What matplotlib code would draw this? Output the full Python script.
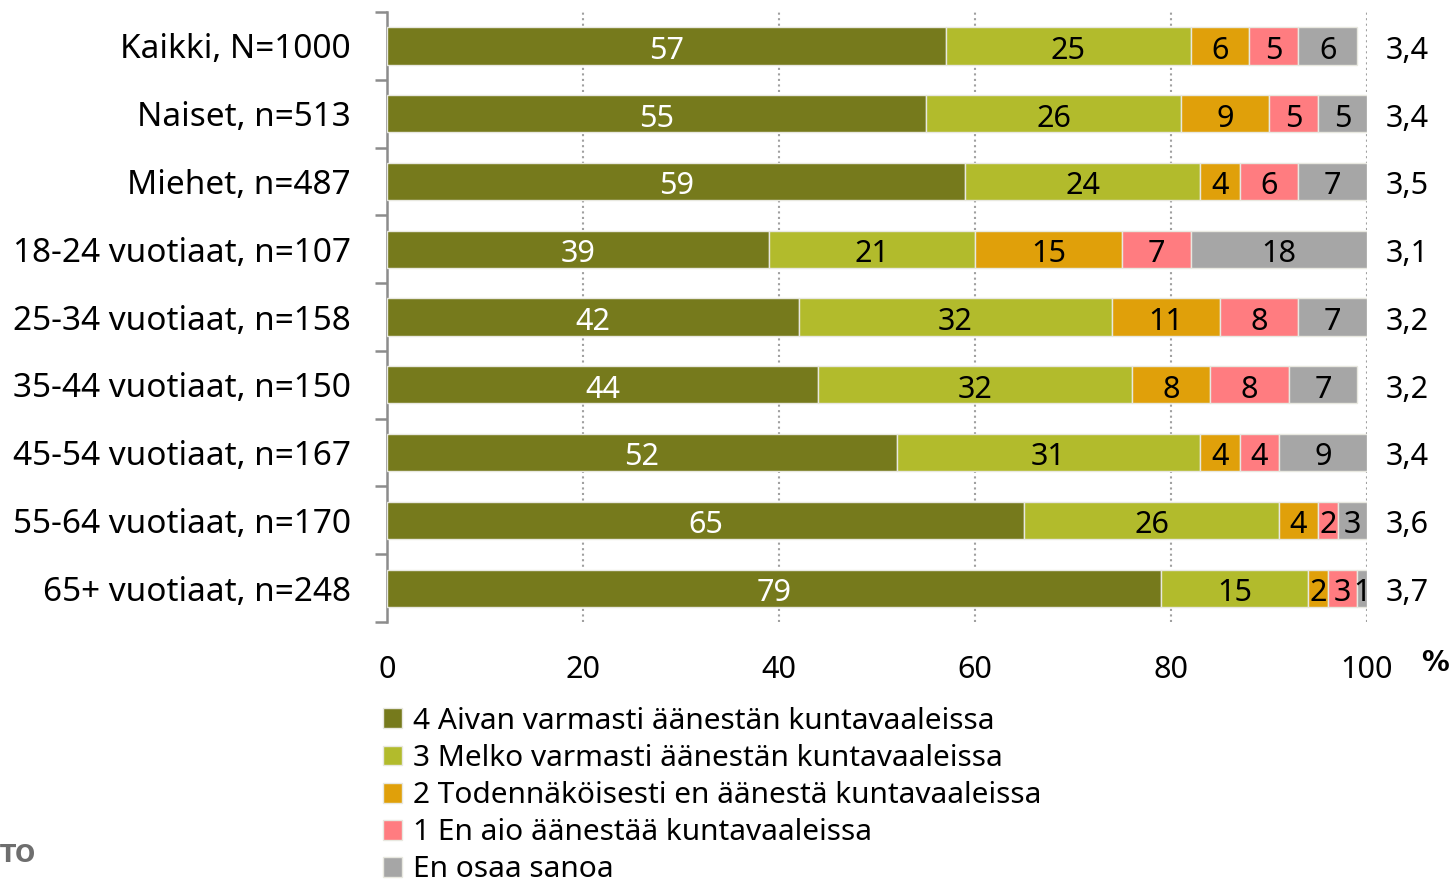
import matplotlib.pyplot as plt
import numpy as np

plt.rcParams['font.family'] = ['Noto Sans', 'DejaVu Sans']

# Data
groups = ['Kaikki, N=1000', 'Naiset, n=513', 'Miehet, n=487',
          '18-24 vuotiaat, n=107', '25-34 vuotiaat, n=158',
          '35-44 vuotiaat, n=150', '45-54 vuotiaat, n=167',
          '55-64 vuotiaat, n=170', '65+ vuotiaat, n=248']
aivan = [57, 55, 59, 39, 42, 44, 52, 65, 79]
melko = [25, 26, 24, 21, 32, 32, 31, 26, 15]
todennak = [6, 9, 4, 15, 11, 8, 4, 4, 2]
en_aio = [5, 5, 6, 7, 8, 8, 4, 2, 3]
eos = [6, 5, 7, 18, 7, 7, 9, 3, 1]
means = ['3,4', '3,4', '3,5', '3,1', '3,2', '3,2', '3,4', '3,6', '3,7']

series = [aivan, melko, todennak, en_aio, eos]
labels = ['4 Aivan varmasti äänestän kuntavaaleissa',
          '3 Melko varmasti äänestän kuntavaaleissa',
          '2 Todennäköisesti en äänestä kuntavaaleissa',
          '1 En aio äänestää kuntavaaleissa',
          'En osaa sanoa']
colors = ['#767a1c', '#b2bb2c', '#e0a00a', '#ff7c80', '#a6a6a6']
text_colors = ['white', 'black', 'black', 'black', 'black']

fs = 22
fig = plt.figure(figsize=(14.54, 8.89), dpi=100)
ax = fig.add_axes([0.2662, 0.3003, 0.674, 0.6862])

y = np.arange(len(groups))
left = np.zeros(len(groups))
for vals, col, tc, lab in zip(series, colors, text_colors, labels):
    vals = np.array(vals, dtype=float)
    ax.barh(y, vals, left=left, height=0.55, color=col,
            edgecolor='#e8e8e0', linewidth=1, label=lab, zorder=3)
    for yi, l, v in zip(y, left, vals):
        ax.text(l + v / 2, yi + 0.02, f'{int(v)}', ha='center',
                va='center_baseline', color=tc, fontsize=fs, zorder=4)
    left += vals

for yi, m in zip(y, means):
    ax.text(104.1, yi + 0.02, m, ha='center', va='center_baseline',
            fontsize=fs, clip_on=False)

ax.set_xlim(0, 100)
ax.set_ylim(len(groups) - 0.5, -0.5)
ax.set_yticks(y)
ax.set_yticklabels(groups, fontsize=24)
for t in ax.get_yticklabels():
    t.set_verticalalignment('center_baseline')
ax.set_yticks(np.arange(-0.5, len(groups)), minor=True)
ax.tick_params(axis='y', which='major', length=0, pad=26)
ax.tick_params(axis='y', which='minor', length=9, width=1.8, color='#8c8c8c')
ax.set_xticks([0, 20, 40, 60, 80, 100])
ax.tick_params(axis='x', length=0, pad=24, labelsize=fs)
ax.xaxis.grid(True, linestyle=':', color='#a0a0a0', linewidth=1.5, zorder=0)
for s in ['top', 'right', 'bottom']:
    ax.spines[s].set_visible(False)
ax.spines['left'].set_color('#8c8c8c')
ax.spines['left'].set_linewidth(1.8)

fig.text(1435 / 1454, 1 - 663 / 889, '%', ha='center', va='center',
         fontsize=20, fontweight='bold', family='DejaVu Sans')

fig.legend(loc='upper left', bbox_to_anchor=(371 / 1454, 1 - 695 / 889),
           fontsize=21.5, frameon=False, handlelength=0.65, handleheight=0.65,
           handletextpad=0.35, labelspacing=0.27, borderaxespad=0)

fig.text(0, 1 - 855 / 889, 'TO', ha='left', va='center',
         fontsize=17, fontweight='bold', color='#6e6e6e', family='DejaVu Sans')

fig.savefig('out.png', dpi=100)
